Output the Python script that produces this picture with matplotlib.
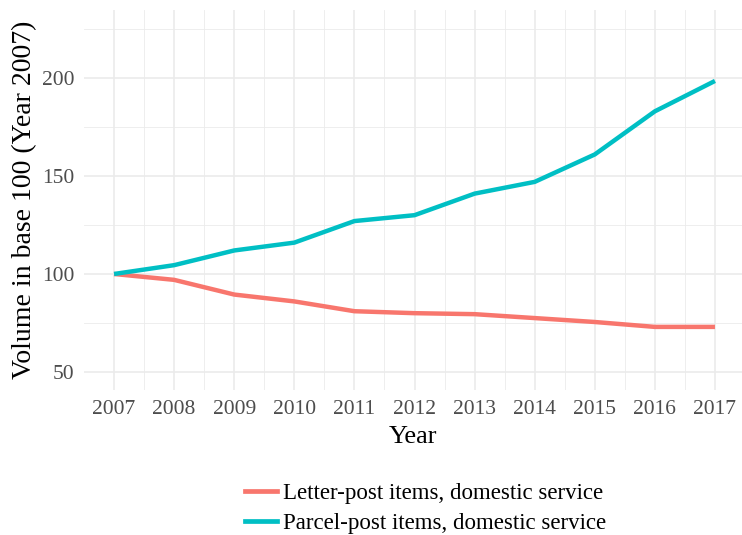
import matplotlib
matplotlib.use("Agg")
import matplotlib.pyplot as plt
from matplotlib.lines import Line2D

years = [2007, 2008, 2009, 2010, 2011, 2012, 2013, 2014, 2015, 2016, 2017]
letter_post = [100, 97, 89.5, 86, 81, 80, 79.5, 77.5, 75.5, 73, 73]
parcel_post = [100, 104.5, 112, 116, 127, 130, 141, 147, 161, 183, 198.5]
series_labels = ["Letter-post items, domestic service",
                 "Parcel-post items, domestic service"]
y_ticks = [50, 100, 150, 200]

plt.rcParams['font.family'] = ['Liberation Serif', 'DejaVu Serif']

fig = plt.figure(figsize=(7.42, 5.35), dpi=100)
ax = fig.add_axes([84/742, 1-390/535, 1-84/742, 380/535])

grid_c = '#EBEBEB'
for y in [75, 125, 175, 225]:
    ax.axhline(y, color=grid_c, lw=0.6, zorder=0)
for x in years[:-1]:
    ax.axvline(x + 0.5, color=grid_c, lw=0.6, zorder=0)
for y in y_ticks:
    ax.axhline(y, color=grid_c, lw=1.2, zorder=0)
for x in years:
    ax.axvline(x, color=grid_c, lw=1.2, zorder=0)

c_letter = '#F8766D'
c_parcel = '#00BFC4'
ax.plot(years, letter_post, color=c_letter, lw=3.2, solid_capstyle='butt', zorder=3)
ax.plot(years, parcel_post, color=c_parcel, lw=3.2, solid_capstyle='butt', zorder=3)

ax.set_xlim(2006.5, 2017.45)
ax.set_ylim(40.8, 234.7)
ax.set_xticks(years)
ax.set_xticklabels([str(y) for y in years])
ax.set_yticks(y_ticks)
for s in ax.spines.values():
    s.set_visible(False)
ax.tick_params(length=0, labelsize=15.5, labelcolor='#4D4D4D', pad=7)
ax.set_xlabel("Year", fontsize=19, labelpad=5)
ax.set_ylabel("Volume in base 100 (Year 2007)", fontsize=20, labelpad=3)

handles = [Line2D([0], [0], color=c_letter, lw=3.4),
           Line2D([0], [0], color=c_parcel, lw=3.4)]
fig.legend(handles, series_labels, loc='upper left',
           bbox_to_anchor=(245/742, 1-483/535), borderaxespad=0, borderpad=0,
           frameon=False, fontsize=16.5, handlelength=1.4, handletextpad=0.25,
           labelspacing=0.38)

fig.savefig("out.png", dpi=100)
